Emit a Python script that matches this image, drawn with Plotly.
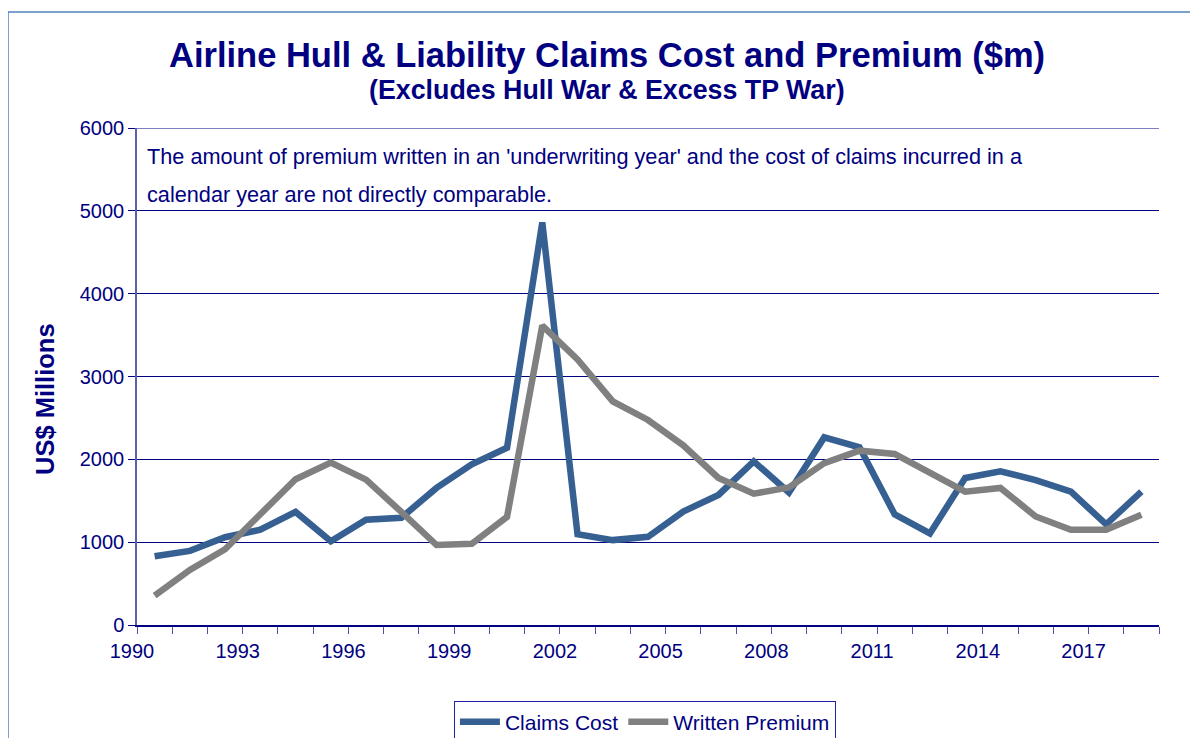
import plotly.graph_objects as go

years = list(range(1990, 2019))
claims_cost = [830, 895, 1060, 1150, 1365, 1010, 1270, 1295, 1655, 1940, 2140,
               4860, 1095, 1025, 1065, 1370, 1570, 1975, 1600, 2265, 2145,
               1335, 1105, 1775, 1855, 1750, 1610, 1215, 1610]
written_premium = [355, 665, 915, 1335, 1760, 1960, 1755, 1365, 965, 980, 1305,
                   3615, 3205, 2700, 2475, 2170, 1775, 1585, 1660, 1955, 2105,
                   2065, 1835, 1610, 1655, 1310, 1150, 1150, 1330]

NAVY = "#000080"
FONT = "Arial, Liberation Sans, sans-serif"

# category centres on a year scale (each year occupies [Y, Y+1])
xc = [y + 0.5 for y in years]

fig = go.Figure()
fig.add_trace(go.Scatter(x=xc, y=claims_cost, mode="lines", name="Claims Cost",
                         line=dict(color="#376092", width=6.5)))
fig.add_trace(go.Scatter(x=xc, y=written_premium, mode="lines", name="Written Premium",
                         line=dict(color="#808080", width=6.5)))

# page body has an 8px margin, so the figure is 8px smaller and offset
fig.update_layout(
    width=1190, height=730,
    margin=dict(l=129, r=39, t=120, b=113, autoexpand=False),
    paper_bgcolor="white", plot_bgcolor="white",
    font=dict(family=FONT, color=NAVY, size=20),
    showlegend=True,
    legend=dict(orientation="h", x=0.497, xanchor="center", y=-0.152, yanchor="top",
                bordercolor="#2020A0", borderwidth=1, bgcolor="white",
                font=dict(size=21, color=NAVY), itemwidth=40,
                tracegroupgap=0),
)

fig.update_xaxes(
    range=[1990, 2019], tickmode="linear", tick0=1990, dtick=3,
    ticks="outside", ticklen=7, tickcolor="#5050A0",
    showline=True, linecolor=NAVY, linewidth=1.5,
    showgrid=False, zeroline=False, ticklabelshift=-5,
    tickfont=dict(size=20, color=NAVY),
    minor=dict(ticks="outside", ticklen=7, dtick=1, tick0=1990, tickcolor="#5050A0", showgrid=False),
)
fig.update_yaxes(
    range=[0, 6000], tickmode="linear", tick0=0, dtick=1000,
    ticks="outside", ticklen=7, tickcolor=NAVY,
    showline=True, linecolor="#6060A8", linewidth=1.5,
    showgrid=True, gridcolor=NAVY, gridwidth=1, zeroline=False,
    tickfont=dict(size=20, color=NAVY),
)

# top gridline at 6000
fig.add_shape(type="line", xref="paper", yref="y", x0=0, x1=1, y0=6000, y1=6000,
              line=dict(color=NAVY, width=1))

# titles
fig.add_annotation(text="<b>Airline Hull & Liability Claims Cost and Premium ($m)</b>",
                   xref="paper", yref="paper", x=(607 - 137) / 1022, y=(625 - 55) / 497,
                   showarrow=False, xanchor="center", yanchor="middle",
                   font=dict(size=34.5, color=NAVY, family=FONT))
fig.add_annotation(text="<b>(Excludes Hull War & Excess TP War)</b>",
                   xref="paper", yref="paper", x=(607 - 137) / 1022, y=(625 - 90) / 497,
                   showarrow=False, xanchor="center", yanchor="middle",
                   font=dict(size=26.8, color=NAVY, family=FONT))
fig.add_annotation(text="<b>US$ Millions</b>", textangle=-90,
                   xref="paper", yref="paper", x=(45 - 137) / 1022, y=(625 - 399) / 497,
                   showarrow=False, xanchor="center", yanchor="middle",
                   font=dict(size=25.5, color=NAVY, family=FONT))
# note inside plot
fig.add_annotation(text="The amount of premium written in an 'underwriting year' and the cost of claims incurred in a",
                   xref="paper", yref="paper", x=(145 - 137) / 1022, y=(625 - 156) / 497,
                   showarrow=False, xanchor="left", yanchor="middle",
                   font=dict(size=21.7, color=NAVY, family=FONT))
fig.add_annotation(text="calendar year are not directly comparable.",
                   xref="paper", yref="paper", x=(145 - 137) / 1022, y=(625 - 194) / 497,
                   showarrow=False, xanchor="left", yanchor="middle",
                   font=dict(size=21.7, color=NAVY, family=FONT))

# outer chart-area border
fig.add_shape(type="rect", xref="paper", yref="paper",
              x0=(8 - 137) / 1022, x1=(1210 - 137) / 1022,
              y0=(625 - 750) / 497, y1=(625 - 12) / 497,
              line=dict(color="#4F81BD", width=1.5), layer="below")

fig.write_html("out.html")
